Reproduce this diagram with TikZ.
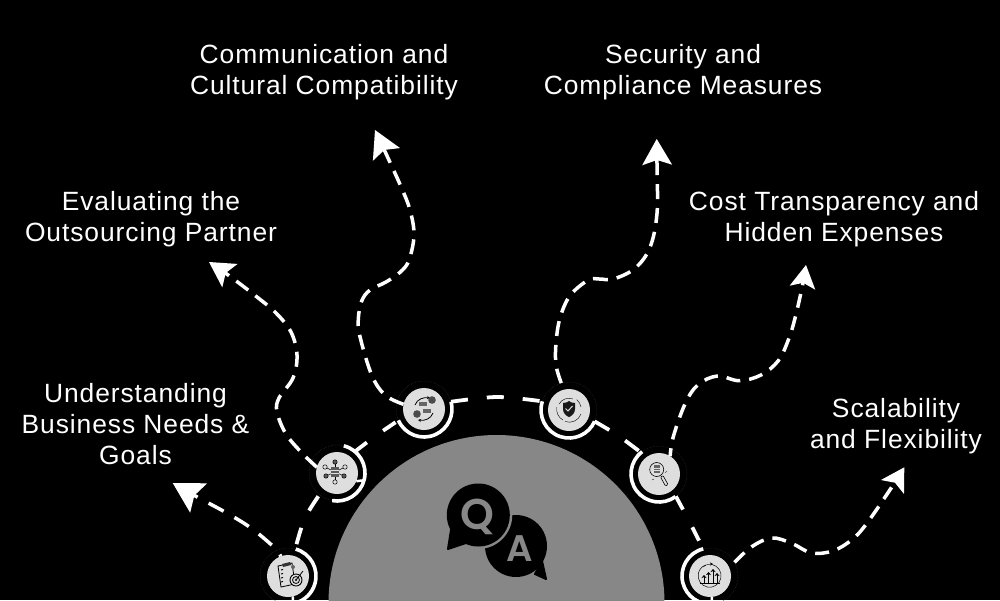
\documentclass[tikz,border=0pt]{standalone}
\usepackage{fontspec}
\setmainfont{Poppins}
\newfontfamily\lblfont{Liberation Sans}[LetterSpace=3.5]
\newfontfamily\qafont{Poppins SemiBold}
\usetikzlibrary{arrows.meta}
\definecolor{bigc}{HTML}{878787}
\definecolor{diskc}{HTML}{DEDEDE}
\definecolor{dotc}{HTML}{303030}
\tikzset{
  lbl/.style={text=white,align=center,inner sep=0pt,font=\fontsize{26.4}{31}\selectfont\lblfont},
  disk/.style={circle,fill=diskc,minimum size=42pt,inner sep=0pt,outer sep=0pt},
  ringn/.style={circle,draw=dotc,line width=.5pt,densely dotted,minimum size=56pt,inner sep=0pt,outer sep=0pt},
  ringarc/.style={draw=white,line width=3.6pt},
  arcdash/.style={draw=white,line width=3.8pt,dash pattern=on 17pt off 19pt},
  wave/.style={draw=white,line width=3.5pt,dash pattern=on 15pt off 9pt},
  ico/.style={draw=black,line width=.5pt},
}
\newcommand{\tipspec}[2]{-{Stealth[length=#1pt,width=#2pt,inset=5pt,line width=0pt,fill=white]}}
\begin{document}
\begin{tikzpicture}[x=1pt,y=-1pt]
\useasboundingbox (0,0) rectangle (1000,600);
\fill[black] (0,0) rectangle (1000,600);
\fill[bigc] (496.5,603) circle[radius=168pt];

% Q/A
\fill[black,line join=round] (516,546) circle[radius=31pt];
\fill[black,draw=black,line width=2pt,line join=round] (535,574) -- (546,579) -- (542,561) -- cycle;
\fill[bigc] (478.3,515) circle[radius=34pt];
\fill[black] (478.3,515) circle[radius=31.5pt];
\fill[black,draw=black,line width=2pt,line join=round] (451,530) -- (448,549) -- (466,543) -- cycle;
\node[text=bigc,font=\fontsize{43}{43}\selectfont\qafont,inner sep=0pt,anchor=base] (q) at (477,529) {Q};
\node[text=bigc,font=\fontsize{37}{37}\selectfont\qafont,inner sep=0pt,anchor=base] (a) at (519.5,561) {A};

% nodes
\node[ringn] (r1) at (288,576) {};
\node[ringn] (r2) at (337,473) {};
\node[ringn] (r3) at (424,409) {};
\node[ringn] (r4) at (569,410) {};
\node[ringn] (r5) at (659,474) {};
\node[ringn] (r6) at (710,576) {};
\node[disk] (n1) at (288,576) {};
\node[disk] (n2) at (337,473) {};
\node[disk] (n3) at (424,409) {};
\node[disk] (n4) at (569,410) {};
\node[disk] (n5) at (659,474) {};
\node[disk] (n6) at (710,576) {};

% ring arcs
\draw[ringarc] (r1.74) arc[start angle=74,end angle=-76,radius=28pt];
\draw[ringarc] (r2.76) arc[start angle=76,end angle=-100,radius=28pt];
\draw[ringarc] (r3.204) arc[start angle=204,end angle=375,radius=28pt];
\draw[ringarc] (r4.162) arc[start angle=162,end angle=336,radius=28pt];
\draw[ringarc] (r5.127) arc[start angle=127,end angle=306,radius=28pt];
\draw[ringarc] (r6.104) arc[start angle=104,end angle=276,radius=28pt];

% arc between nodes
\draw[arcdash,dash pattern=on 17pt off 19pt,dash phase=31pt] plot[smooth,tension=.55] coordinates {(r1.75) (304.5,519) (r2.231)};
\draw[arcdash,dash pattern=on 15pt off 20pt] plot[smooth,tension=.55] coordinates {(r2.50) (375.5,436) (r3.204)};
\draw[arcdash] plot[smooth,tension=.55] coordinates {(r3.15) (497,397) (r4.162)};
\draw[arcdash] plot[smooth,tension=.55] coordinates {(r4.-24) (618,435.5) (r5.130)};
\draw[arcdash,dash pattern=on 15pt off 20pt] plot[smooth,tension=.55] coordinates {(r5.-53) (688,519) (r6.104)};
\draw[white,line width=2.5pt] (n2.-23) -- (r2.-15);
\coordinate (bl) at (293,602);
\coordinate (br) at (712,602);
\draw[white,line width=2.5pt] (n1.-77) -- (bl);
\draw[white,line width=2.5pt] (n6.-85) -- (br);

% tips
\coordinate (ta) at (172.7,483);
\coordinate (tb) at (209,262);
\coordinate (tc) at (375,130);
\coordinate (td) at (656.7,139);
\coordinate (te) at (806,265);
\coordinate (tf) at (904.3,467.3);

% waves
\draw[wave,dash pattern=on 17pt off 12.5pt,dash phase=15pt,\tipspec{30}{34}] plot[smooth,tension=.6] coordinates {(n1.110) (272.7,546) (250,527.3) (225,512) (199,498) (ta)};
\draw[wave,\tipspec{25}{28}] plot[smooth,tension=.6] coordinates {(n2.164) (302,453) (286,434) (277,412) (279,398) (293,378) (297,355) (291,332) (276,313) (257,297) (229.5,276) (tb)};
\draw[wave,\tipspec{27}{30}] plot[smooth,tension=.6] coordinates {(n3.167) (385,395) (371.7,375) (360,336.7) (358.3,319) (361.7,301) (370,290) (386,282) (400.7,271.7) (409,260) (414,235) (410,210) (401,186.7) (386.3,154.3) (tc)};
\draw[wave,\tipspec{26}{30}] plot[smooth,tension=.6] coordinates {(r4.106) (556,365) (556,343) (560,318) (570,295.7) (588.3,280) (599.3,279) (613.3,279) (635,268.3) (650,247.3) (657,213.3) (657,165) (td)};
\draw[wave,dash pattern=on 14pt off 9pt,dash phase=6pt,\tipspec{23}{26}] plot[smooth,tension=.6] coordinates {(n5.58) (673.3,436.7) (685,404) (697.7,385) (717.3,376) (739.3,380.7) (761,375) (778.3,360.7) (788.3,340) (795,318.3) (802,287.7) (te)};
\draw[wave,dash pattern=on 14pt off 9pt,\tipspec{23}{27}] plot[smooth,tension=.6] coordinates {(r6.29) (751.7,546.7) (771.7,538) (791.7,543.3) (811.7,553) (833.3,550.7) (852.3,539.3) (867.3,522.7) (892,486.7) (tf)};

% icons
\begin{scope}[ico]
% icon 1
\draw[fill=diskc,line width=.8pt] (278,566) -- (292,563) -- (295,584) -- (281,587) -- cycle;
\fill[black!80] (282,564) -- (290,562) -- (291,565) -- (283,567) -- cycle;
\foreach \yy in {570,574,578,582} \draw[line width=.9pt] (281,\yy) -- (283,\yy-.5);
\draw[fill=diskc,line width=.9pt] (296,580) circle[radius=6pt];
\draw[line width=.8pt] (296,580) circle[radius=3.5pt];
\fill[black!80] (296,580) circle[radius=1.3pt];
\draw[line width=.8pt] (296,580) -- (303,571);
\fill[black!60] (293,567) circle[radius=2pt];
% icon 2
\foreach \xx/\yy/\ff in {335/462/black!65,325/467/diskc,345/467/diskc,326/476/black!65,344/476/black!65,335/482/diskc}{
  \draw (335,472) -- (\xx,\yy);
  \draw[fill=\ff] (\xx,\yy) circle[radius=2.2pt];
}
\fill[black!65] (331,467) rectangle (339,477);
\draw[diskc,line width=.5pt] (331,470) -- (339,470) (331,473) -- (339,473);
% icon 3
\draw[line width=.8pt,-{Stealth[length=3pt,width=3pt]}] (415,405) .. controls (417,399) and (424,397) .. (430,398);
\draw[line width=.8pt,-{Stealth[length=3pt,width=3pt]}] (433,413) .. controls (431,419) and (424,421) .. (418,420);
\draw[fill=black!60,draw=diskc,line width=.4pt] (418,401) rectangle (427,406);
\draw[fill=black!60,draw=diskc,line width=.4pt] (422.5,408) rectangle (431.5,413);
\fill[black!70] (432,400) circle[radius=3.8pt];
\fill[black!70] (417,414) circle[radius=3.8pt];
% icon 4
\fill[black!90] (563,403) .. controls (566,403) and (568,402) .. (569,401) .. controls (570,402) and (572,403) .. (575,403) -- (575,409) .. controls (575,413) and (572,416) .. (569,417) .. controls (566,416) and (563,413) .. (563,409) -- cycle;
\draw[diskc,line width=1pt] (565.5,408.5) -- (568,411) -- (572.5,406);
\draw[line width=.4pt] (559,404) arc[start angle=150,end angle=70,radius=11.5pt];
\draw[line width=.4pt] (581,414) arc[start angle=-20,end angle=-110,radius=12.5pt];
\draw[line width=.4pt] (556.8,407) arc[start angle=170,end angle=240,radius=12.5pt];
\draw[line width=.4pt] (581,407) arc[start angle=10,end angle=50,radius=12.5pt];
% icon 5
\draw[line width=.6pt] (656.7,469.5) circle[radius=7pt];
\fill[black!60] (654,465) rectangle (660,473);
\draw[diskc,line width=.4pt] (654,468) -- (660,468) (654,470.5) -- (660,470.5);
\draw[line width=.6pt,rounded corners=1pt] (660.5,477) -- (663,475.5) -- (668,484.5) -- (665.5,486) -- cycle;
\draw[line width=.3pt] (665,473) -- (667,471) (652,480) -- (654,479);
% icon 6
\draw[line width=.5pt] (712,564.5) arc[start angle=78,end angle=-250,radius=11.5pt];
\draw[line width=.4pt,-{Stealth[length=3pt,width=3pt]}] (703,567) .. controls (705,565) and (708,564) .. (713,564);
\foreach \xx/\yt in {704/575,708.5/572,713/569,717/573}{
  \draw[line width=.6pt,-{Stealth[length=3pt,width=5pt]}] (\xx,583) -- (\xx,\yt);
}
\draw[line width=.6pt] (700,583.5) -- (720,583.5);
\end{scope}

% labels
\node[lbl] (l1) at (135.5,424.5) {Understanding\\Business Needs \&\\Goals};
\node[lbl] (l2) at (151,219.5) {Evaluating the\\Outsourcing Partner};
\node[lbl] (l3) at (324,72) {Communication and\\Cultural Compatibility};
\node[lbl] (l4) at (683,72) {Security and\\Compliance Measures};
\node[lbl] (l5) at (834,219.5) {Cost Transparency and\\Hidden Expenses};
\node[lbl] (l6) at (896,426.5) {Scalability\\and Flexibility};
\end{tikzpicture}
\end{document}
